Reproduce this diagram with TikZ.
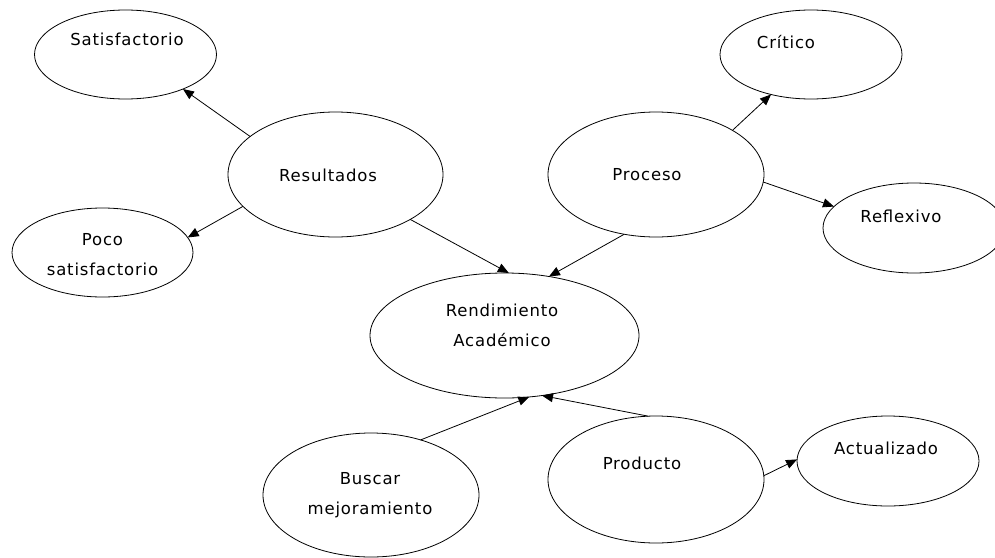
\documentclass[tikz,border=0pt]{standalone}
\usepackage{fontspec}
\setmainfont[LetterSpace=5]{DejaVu Sans}
\usetikzlibrary{arrows.meta,shapes.geometric}
\tikzset{
  ell/.style={draw=black, ellipse, line width=0.8pt, inner sep=0pt, outer sep=0pt},
  bigell/.style={ell, minimum width=216pt, minimum height=125pt},
  smallell/.style={ell, minimum width=182pt, minimum height=89pt},
  txt/.style={align=center, inner sep=0pt, font=\fontsize{16.5}{30}\selectfont},
  arr/.style={line width=0.8pt, -{Triangle[length=11pt,width=9pt]}}
}
\begin{document}
\begin{tikzpicture}[x=1pt,y=-1pt]
\useasboundingbox (0,0) rectangle (995,557);
% ellipses
\node[smallell] (sat) at (125.5,54.5) {};
\node[bigell, minimum width=215pt] (res) at (335.5,174.5) {};
\node[smallell, minimum width=181pt] (poco) at (102.5,252.5) {};
\node[smallell] (crit) at (811,54.5) {};
\node[bigell] (proc) at (656,174.5) {};
\node[smallell, minimum height=90pt] (refl) at (914,228) {};
\node[bigell, minimum width=269pt] (rend) at (504.5,335.5) {};
\node[bigell, minimum height=124pt] (busc) at (371,495) {};
\node[bigell, minimum height=127pt] (prod) at (656,479.5) {};
\node[smallell, minimum height=90pt] (act) at (888,461) {};
% texts
\node[txt] (tsat) at (127,39) {Satisfactorio};
\node[txt] (tres) at (328,175) {Resultados};
\node[txt] (tpoco) at (102.5,254.5) {Poco\\satisfactorio};
\node[txt] (tcrit) at (786,42) {Crítico};
\node[txt] (tproc) at (647,175) {Proceso};
\node[txt] (trefl) at (901,216) {Reflexivo};
\node[txt] (trend) at (502,325.5) {Rendimiento\\Académico};
\node[txt] (tbusc) at (370,495) {Buscar\\mejoramiento};
\node[txt] (tprod) at (642,463) {Producto};
\node[txt] (tact) at (886,448) {Actualizado};
% arrows
\draw[arr] (res.156.6) -- (sat.-31.6);
\draw[arr] (res.-161) -- (poco.10.3);
\draw[arr] (res.-31.8) -- (rend.86.8);
\draw[arr] (proc.-118.5) -- (rend.53.2);
\draw[arr] (proc.30.5) -- (crit.-135.3);
\draw[arr] (proc.-4.5) -- (refl.165.1);
\draw[arr] (busc.48.9) -- (rend.-68.4);
\draw[arr] (prod.97.9) -- (rend.-58.4);
\draw[arr] (prod.2.4) -- (act.179.4);
\end{tikzpicture}
\end{document}
